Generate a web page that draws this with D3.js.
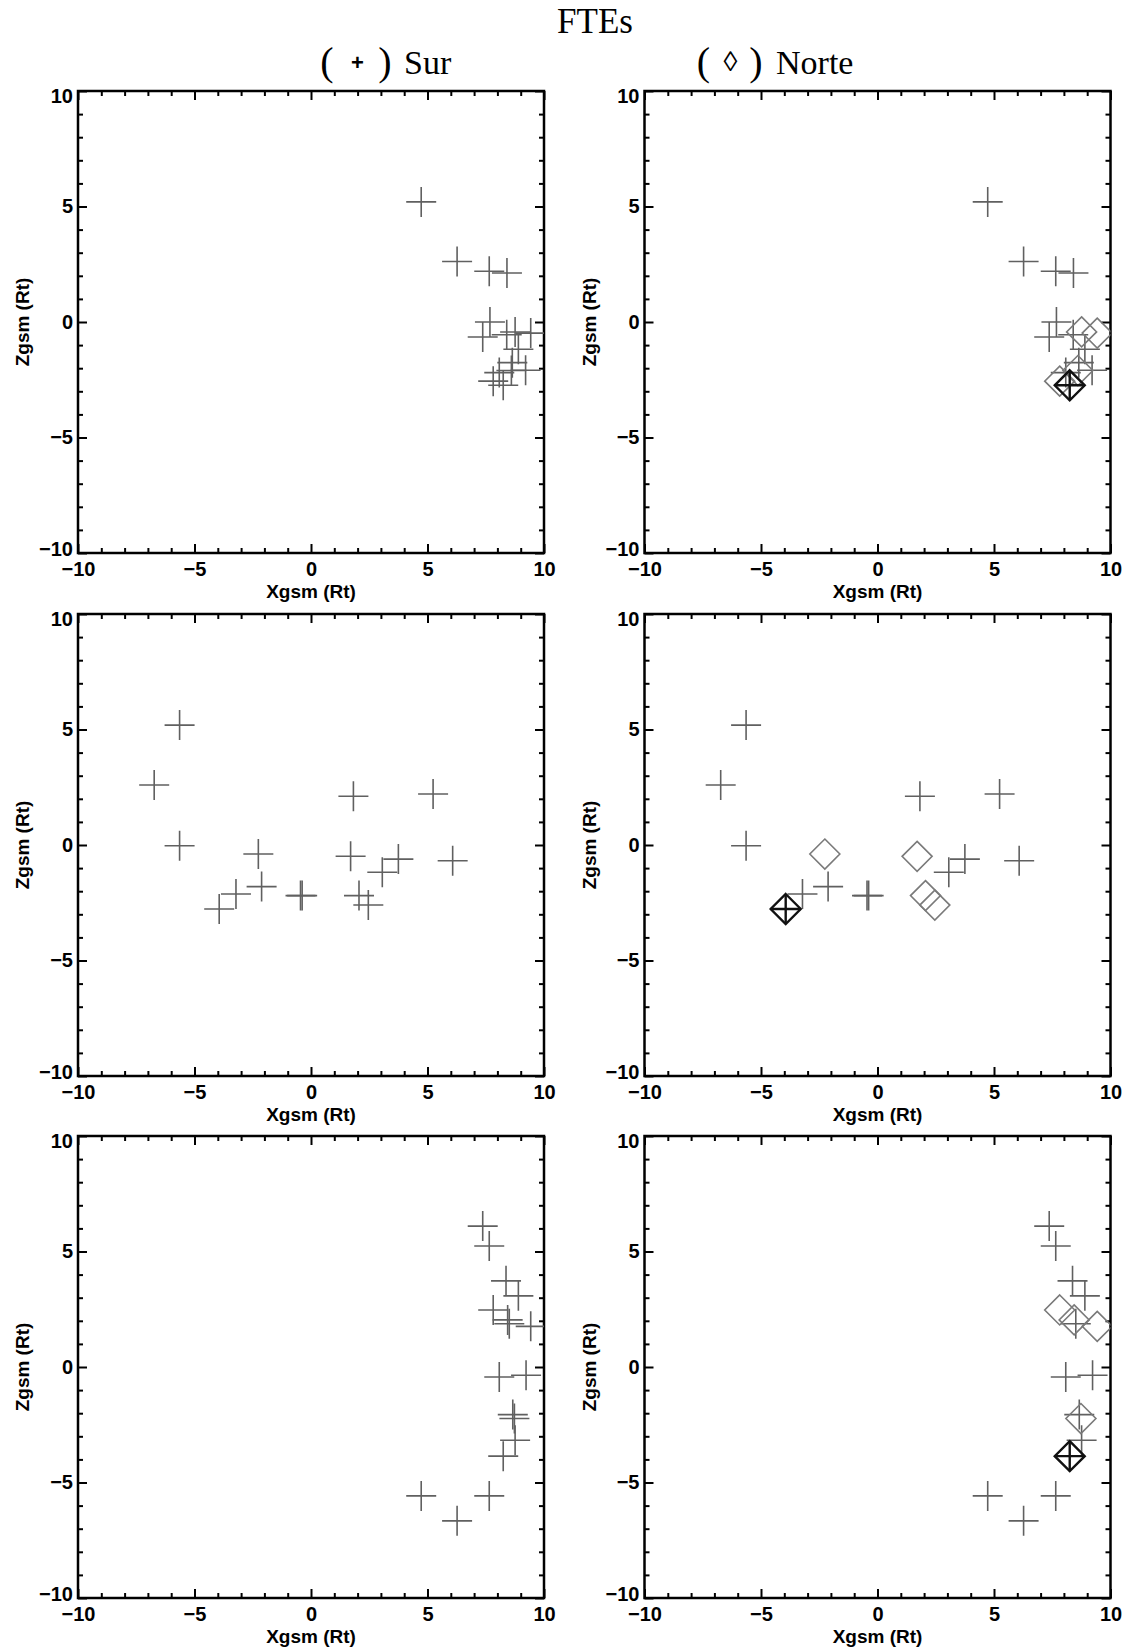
<!DOCTYPE html>
<html>
<head>
<meta charset="utf-8">
<script src="https://cdn.jsdelivr.net/npm/d3@7"></script>
<style>
  body { margin: 0; background: #fff; }
  svg text { fill: #000; }
  .tick text { font-family: "Liberation Sans", Arial, sans-serif; font-weight: bold; font-size: 20px; }
  .axis-title { font-family: "Liberation Sans", Arial, sans-serif; font-weight: bold; font-size: 19px; }
  .head { font-family: "Liberation Serif", "Times New Roman", serif; font-size: 34px; }
</style>
</head>
<body>
<svg id="chart" width="1124" height="1650"></svg>
<script>
// ---- data (Xgsm, Zgsm in Rt) ----
// row 1
const sur1   = [[4.73, 5.20], [6.27, 2.62], [7.65, 2.20], [8.41, 2.12], [7.68, 0.00], [7.37, -0.65],
                [8.90, -1.18], [8.64, -1.76], [9.21, -2.09], [8.08, -2.19], [8.40, -0.55]];
const norte1 = [[8.76, -0.43], [9.43, -0.48], [8.60, -2.10], [7.82, -2.56]];
const ambos1 = [[8.25, -2.74]];
// row 2
const sur2   = [[-5.64, 5.19], [-6.73, 2.60], [-5.64, -0.03], [-2.12, -1.80], [-3.22, -2.12],
                [-0.45, -2.19], [-0.38, -2.19], [1.82, 2.11], [5.24, 2.21], [3.06, -1.18],
                [3.75, -0.61], [6.08, -0.68]];
const norte2 = [[-2.26, -0.39], [1.70, -0.49], [2.06, -2.19], [2.46, -2.60]];
const ambos2 = [[-3.94, -2.77]];
// row 3
const sur3   = [[7.37, 6.10], [7.65, 5.24], [8.37, 3.73], [8.90, 3.08], [8.51, 1.87], [8.08, -0.43],
                [9.23, -0.36], [8.66, -2.06], [8.76, -3.17], [4.73, -5.58], [7.65, -5.58], [6.27, -6.66]];
const norte3 = [[7.82, 2.47], [8.44, 2.04], [9.43, 1.76], [8.73, -2.23]];
const ambos3 = [[8.25, -3.86]];

const majorTicks = [-10, -5, 0, 5, 10];
const minorTicks = [-9, -8, -7, -6, -4, -3, -2, -1, 1, 2, 3, 4, 6, 7, 8, 9];

const rows = [
  { sur: sur1, norte: norte1, ambos: ambos1 },
  { sur: sur2, norte: norte2, ambos: ambos2 },
  { sur: sur3, norte: norte3, ambos: ambos3 },
];

// ---- layout ----
const colX = [78, 644.5];
const rowY = [91, 614, 1136];
const W = 466, H = 462;
const S = 15;                 // marker half size (px)
const GREY_X = '#606060', GREY_D = '#7a7a7a';

const svg = d3.select('#chart');

const crossPath   = `M${-S},0H${S}M0,${-S}V${S}`;
const diamondPath = `M0,${-S}L${S},0L0,${S}L${-S},0Z`;

// headers
svg.append('text').attr('class', 'head').attr('x', 595).attr('y', 33)
  .attr('text-anchor', 'middle').style('font-size', '35px').text('FTEs');

function header(parts) {
  parts.forEach(p => {
    svg.append('text')
      .attr('class', 'head')
      .attr('x', p.x).attr('y', p.y ?? 74)
      .attr('text-anchor', p.anchor ?? 'middle')
      .style('font-family', p.family ?? null)
      .style('font-weight', p.weight ?? null)
      .style('font-size', p.size ?? null)
      .text(p.t);
  });
}
const SANS = '"Liberation Sans", Arial, sans-serif';
header([
  { t: '(', x: 327, y: 75, size: '40px' },
  { t: '+', x: 357.5, y: 70, family: SANS, weight: 'bold', size: '22px' },
  { t: ')', x: 385, y: 75, size: '40px' },
  { t: 'Sur', x: 404, anchor: 'start' },
]);
header([
  { t: '(', x: 703.5, y: 75, size: '40px' },
  { t: '\u25CA', x: 730.5, y: 71, size: '28px' },
  { t: ')', x: 756, y: 75, size: '40px' },
  { t: 'Norte', x: 776, anchor: 'start' },
]);

// ---- panels ----
function drawPanel(px, py, row, right, id) {
  const x = d3.scaleLinear().domain([-10, 10]).range([px, px + W]);
  const y = d3.scaleLinear().domain([-10, 10]).range([py + H, py]);

  svg.append('clipPath').attr('id', id)
    .append('rect').attr('x', px).attr('y', py).attr('width', W).attr('height', H);

  const g = svg.append('g');

  // inward ticks on all four sides
  const axes = [
    { gen: d3.axisBottom(x), t: `translate(0,${py + H})`, lab: true,  pad: 9 },
    { gen: d3.axisTop(x),    t: `translate(0,${py})`,     lab: false, pad: 6 },
    { gen: d3.axisLeft(y),   t: `translate(${px},0)`,     lab: true,  pad: 5 },
    { gen: d3.axisRight(y),  t: `translate(${px + W},0)`, lab: false, pad: 6 },
  ];
  axes.forEach((a, k) => {
    const major = g.append('g').attr('transform', a.t)
      .call(a.gen.tickValues(majorTicks).tickSize(-9).tickPadding(a.pad)
        .tickFormat(a.lab ? d3.format('d') : ''));
    major.select('.domain').remove();
    major.selectAll('line').attr('stroke-width', 2);
    if (k === 2) {
      // end labels sit slightly inside the frame
      major.selectAll('.tick text')
        .attr('transform', d => d === 10 ? 'translate(0,5)' : d === -10 ? 'translate(0,-4)' : null);
    }

    const minor = g.append('g').attr('transform', a.t)
      .call(a.gen.tickValues(minorTicks).tickSize(-5).tickFormat(''));
    minor.select('.domain').remove();
    minor.selectAll('line').attr('stroke-width', 2);
  });

  // frame
  g.append('rect').attr('x', px).attr('y', py).attr('width', W).attr('height', H)
    .attr('fill', 'none').attr('stroke', '#000').attr('stroke-width', 2.5);

  // axis titles
  g.append('text').attr('class', 'axis-title')
    .attr('x', px + W / 2).attr('y', py + H + 45)
    .attr('text-anchor', 'middle').text('Xgsm (Rt)');
  g.append('text').attr('class', 'axis-title')
    .attr('transform', `translate(${px - 49},${py + H / 2}) rotate(-90)`)
    .attr('text-anchor', 'middle').text('Zgsm (Rt)');

  // markers
  const m = g.append('g').attr('clip-path', `url(#${id})`).attr('fill', 'none');
  const crosses = right ? row.sur : row.sur.concat(row.norte, row.ambos);

  m.selectAll('path.cross').data(crosses).join('path')
    .attr('class', 'cross')
    .attr('transform', d => `translate(${x(d[0])},${y(d[1])})`)
    .attr('d', crossPath)
    .attr('stroke', GREY_X).attr('stroke-width', 1.6);

  if (right) {
    m.selectAll('path.dia').data(row.norte).join('path')
      .attr('class', 'dia')
      .attr('transform', d => `translate(${x(d[0])},${y(d[1])})`)
      .attr('d', diamondPath)
      .attr('stroke', GREY_D).attr('stroke-width', 1.6);

    const b = m.selectAll('g.both').data(row.ambos).join('g')
      .attr('class', 'both')
      .attr('transform', d => `translate(${x(d[0])},${y(d[1])})`);
    b.append('path').attr('d', diamondPath).attr('stroke', '#111').attr('stroke-width', 2.4);
    b.append('path').attr('d', crossPath).attr('stroke', '#111').attr('stroke-width', 2.4);
  }
}

rows.forEach((row, i) => {
  drawPanel(colX[0], rowY[i], row, false, `clip-l${i}`);
  drawPanel(colX[1], rowY[i], row, true,  `clip-r${i}`);
});
</script>
</body>
</html>
